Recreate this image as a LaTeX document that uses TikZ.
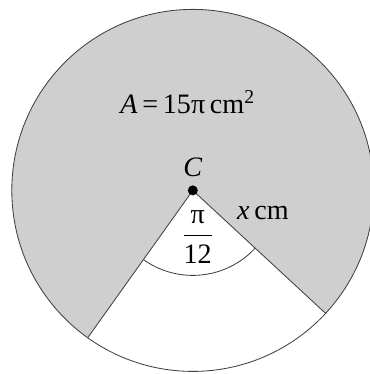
\documentclass[tikz,border=0pt]{standalone}
\usepackage{amsmath}
\usepackage{fontspec}
\setmainfont{Liberation Serif}
\usepackage{tikz}
\usetikzlibrary{calc}

\begin{document}
\begin{tikzpicture}[
  font=\fontsize{20}{24}\selectfont,
  rim/.style={draw=black!75, line width=0.6pt},
  lbl/.style={inner sep=0pt, anchor=base}
]
\useasboundingbox (0,0) rectangle (9.25,9.35);
\clip (0,0) rectangle (9.25,9.35);

\coordinate (C)  at (4.82, 4.59);
\coordinate (pl) at ($(C)+(234.5:4.525)$);
\coordinate (pr) at ($(C)+(317.2:4.525)$);
\coordinate (al) at ($(C)+(234.5:2.125)$);

% shaded major sector
\fill[fill=black!19] (C) -- (pr) arc[start angle=317.2, end angle=594.5, radius=4.525] -- cycle;
\draw[rim] (C) circle[radius=4.525];
\draw[rim] (pl) -- (C) -- (pr);
\draw[rim] (al) arc[start angle=234.5, end angle=317.2, radius=2.125];
\fill (C) circle[radius=0.125];

\node[lbl] (area)  at (4.69, 6.50) {\textit{A}\,=\,15π\,cm\textsuperscript{2}};
\node[lbl] (lblC)  at (4.82, 4.93) {\textit{C}};
\node[lbl] (len)   at (6.575, 3.85) {\textit{x}\,cm};
\node[inner sep=0pt] (ang) at (4.94, 3.43) {$\dfrac{\text{π}}{\text{12}}$};
\end{tikzpicture}
\end{document}
